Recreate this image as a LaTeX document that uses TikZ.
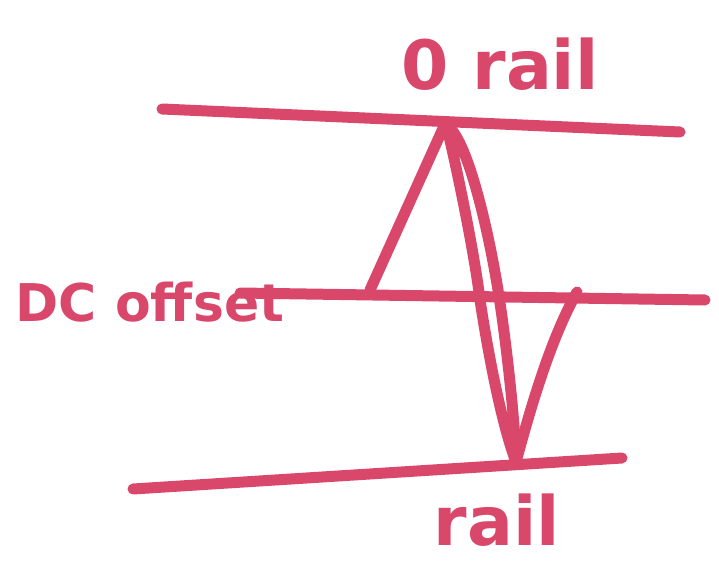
\documentclass[tikz,border=0pt]{standalone}
\usepackage{fontspec}
\setmainfont{DejaVu Sans}
\definecolor{marker}{HTML}{D9476B}
\begin{document}
\begin{tikzpicture}[
x=1pt, y=-1pt,
pen/.style={
draw=marker,
line width=11pt,
line cap=round,
line join=round
},
label/.style={
text=marker,
inner sep=0pt
}
]

\useasboundingbox (0,0) rectangle (719,572);

% rails and offset
\draw[pen] (162,109) -- (680,132);
\draw[pen] (240,293) -- (705,300);
\draw[pen] (133,489) -- (622,458);

% waveform
\draw[pen] (370,290) -- (445,124)
.. controls (468,135) and (490,240) .. (498,290)
.. controls (506,340) and (515,420) .. (516,462)
.. controls (500,420) and (486,340) .. (480,300)
.. controls (474,250) and (455,160) .. (447,128);
\draw[pen] (516,462) .. controls (530,410) and (550,340) .. (577,292);

\node[label, font=\bfseries\fontsize{68}{68}\selectfont] (zerorail) at (500,64) {0 rail};
\node[label, font=\bfseries\fontsize{52}{52}\selectfont] (dcoffset) at (150,302) {DC offset};
\node[label, font=\bfseries\fontsize{68}{68}\selectfont] (lowrail) at (497,520) {rail};

\end{tikzpicture}
\end{document}
